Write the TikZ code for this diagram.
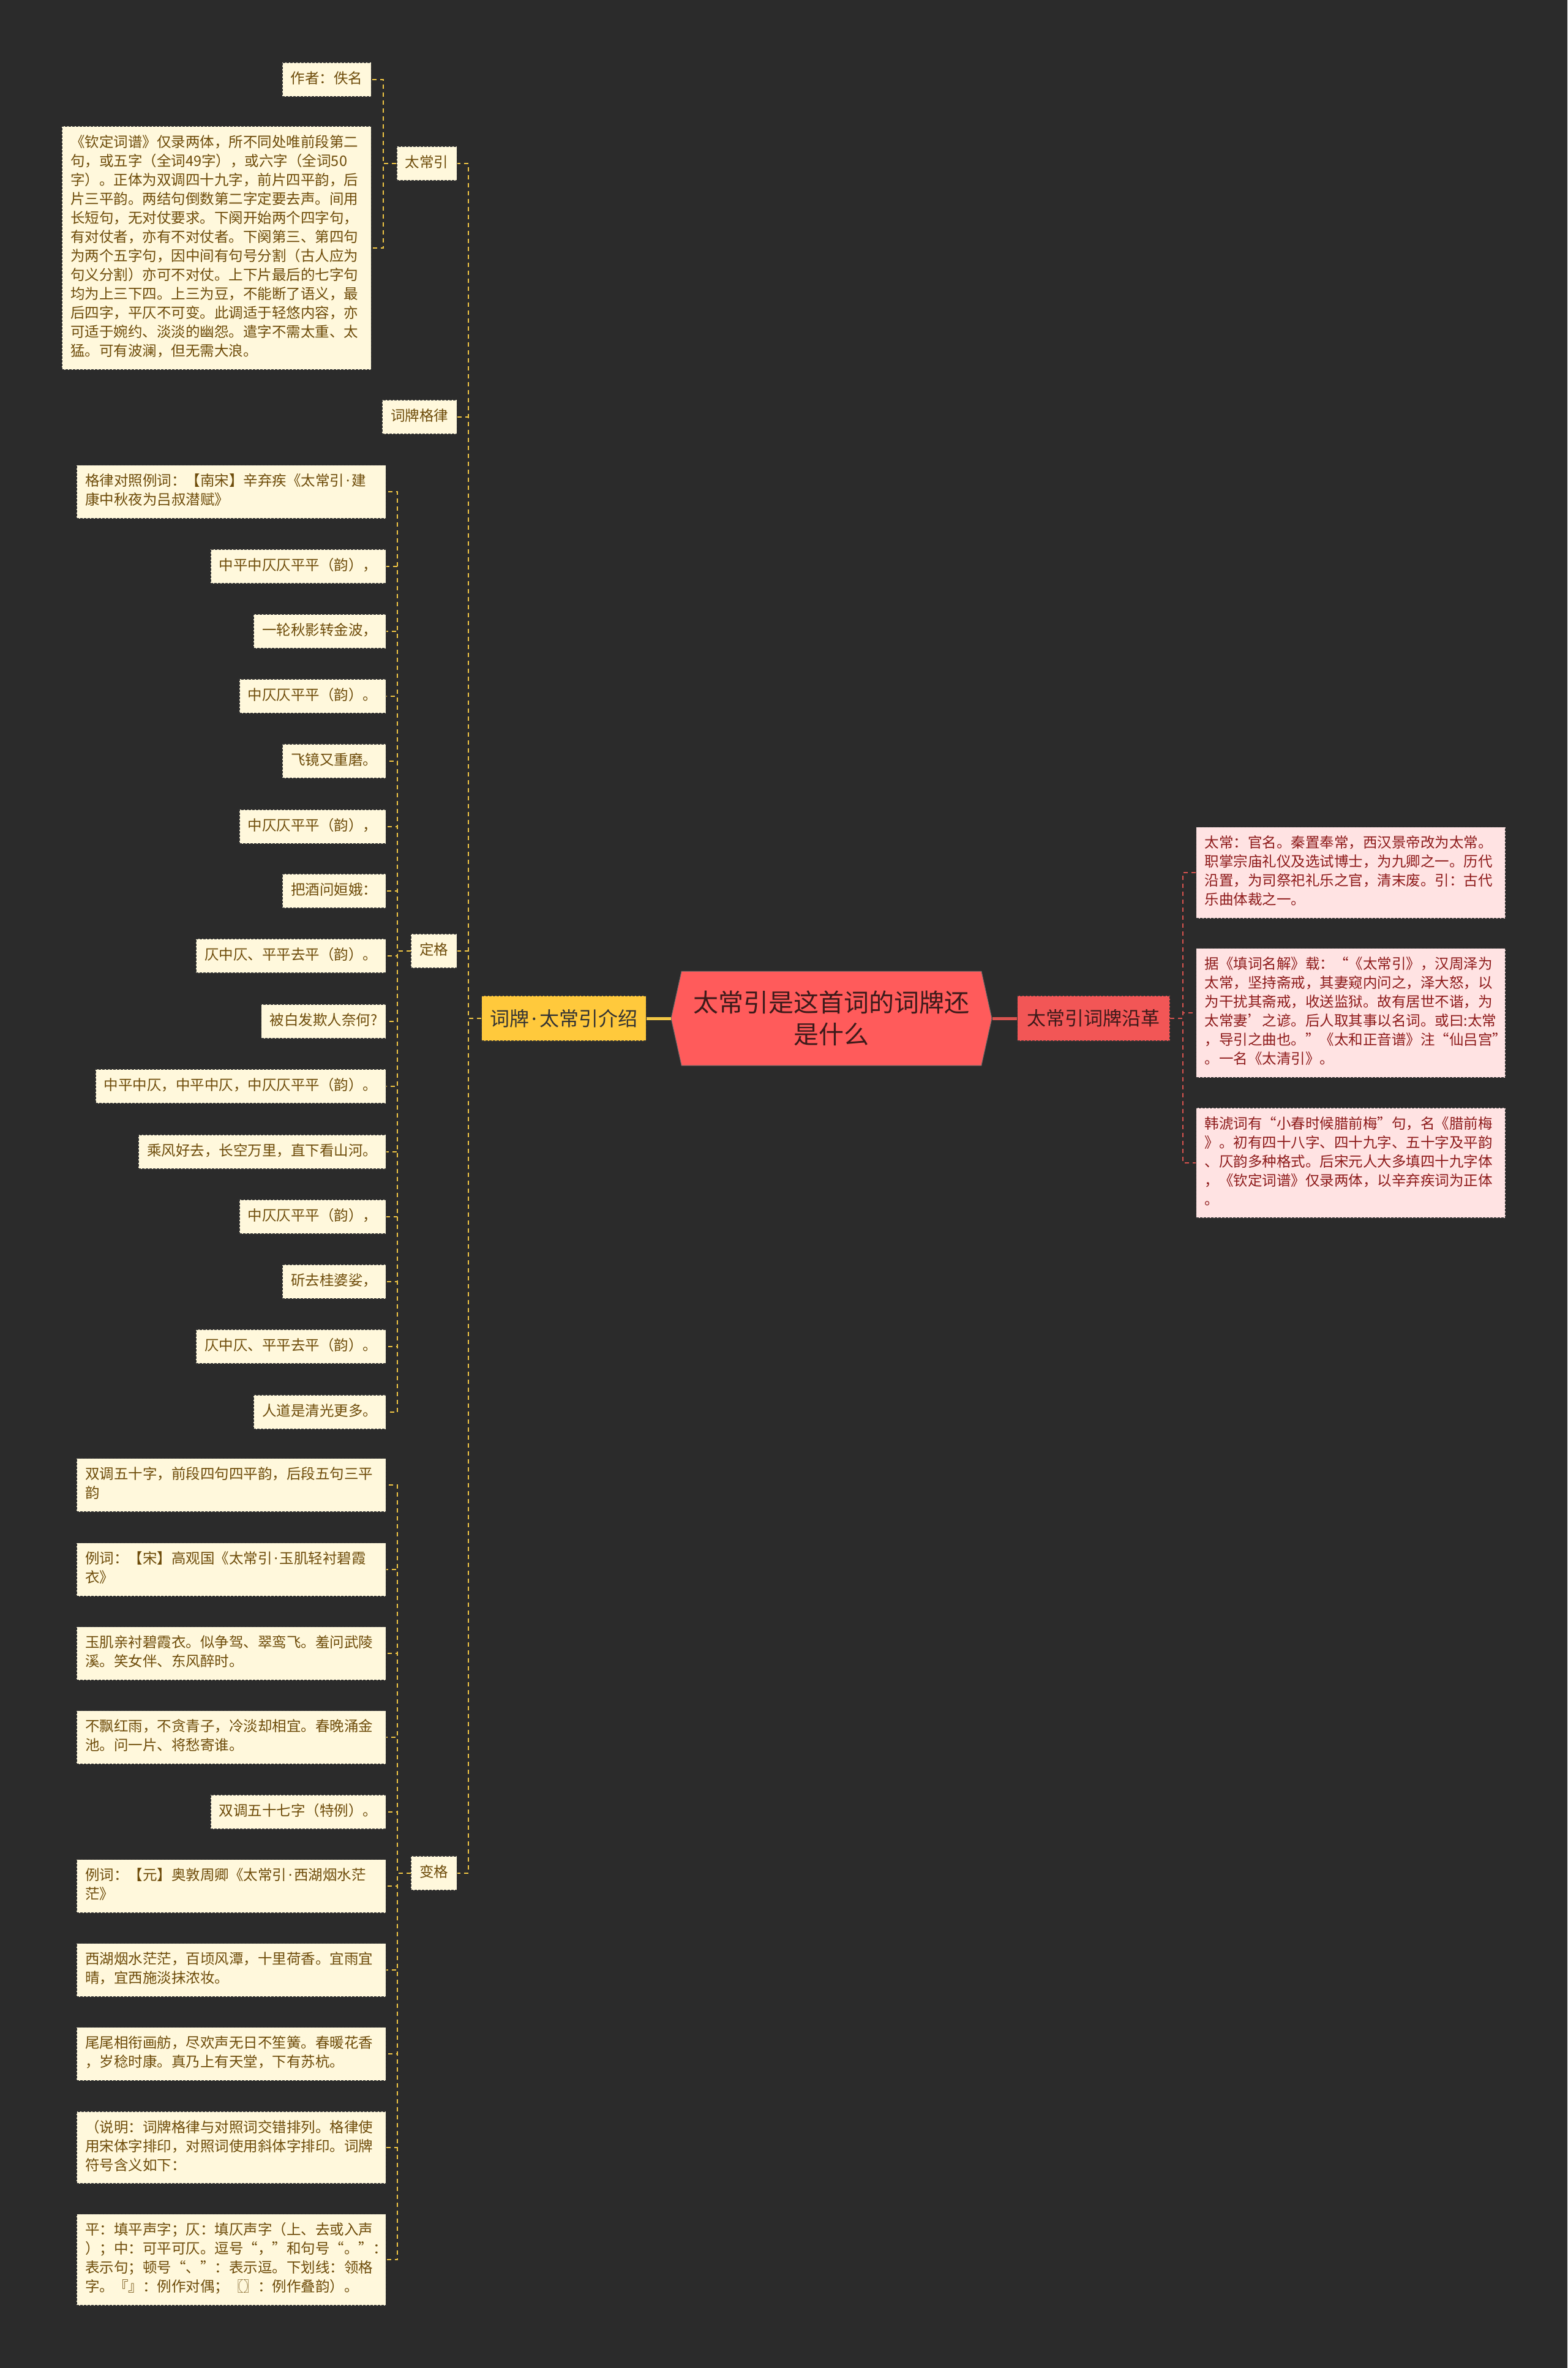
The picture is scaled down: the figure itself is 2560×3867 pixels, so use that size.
\documentclass[tikz,border=0pt]{standalone}
\usepackage{fontspec}
\setmainfont{Noto Sans CJK SC}
\newfontfamily\latinfont{Noto Sans}
\newcommand\mdot{{\latinfont\hspace{0.12em}·\hspace{0.12em}}}
\usetikzlibrary{shapes.symbols}
\definecolor{bgdark}{HTML}{2B2B2B}
\definecolor{cream}{HTML}{FFF8DC}
\definecolor{ink}{HTML}{6E4C0A}
\definecolor{gold}{HTML}{FFC93C}
\definecolor{rose}{HTML}{FF5B5B}
\definecolor{blush}{HTML}{FFE3E3}
\definecolor{wine}{HTML}{8E1B1B}
\definecolor{rootink}{HTML}{3D1A1A}
\definecolor{linkyel}{HTML}{F2C744}
\definecolor{linkred}{HTML}{D9534F}

\begin{document}
\begin{tikzpicture}[x=1pt, y=-1pt,
    every node/.style={font=\fontsize{23.5}{31}\selectfont, inner xsep=14pt, inner ysep=12.5pt},
    leaf/.style={fill=cream, text=ink, draw=black!80, dash pattern=on 4pt off 2pt, line width=1.2pt, execute at begin node=\strut, execute at end node=\strut},
    para/.style={leaf, text width=477pt, align=left},
    note/.style={para, fill=blush, text=wine},
    topic/.style={draw=black!80, dash pattern=on 4pt off 2pt, line width=1.2pt, font=\fontsize{32}{40}\selectfont, minimum height=74pt},
    ylink/.style={draw=linkyel, line width=2pt, dash pattern=on 7pt off 6pt},
    rlink/.style={ylink, draw=linkred}]
    \fill[bgdark] (0,0) rectangle (2560,3867);
    \useasboundingbox (0,0) rectangle (2560,3867);

    \node (root) [shape=signal, signal to=west and east, signal pointer angle=155, fill=rose, draw=black!60, line width=1pt, text=rootink, font=\fontsize{41}{52}\selectfont, align=center, minimum width=524pt, minimum height=154pt] at (1358,1663) {太常引是这首词的词牌还\\是什么};
    \node (intro) [topic, fill=gold, text=black!80, minimum width=263pt] at (921,1663) {词牌\mdot 太常引介绍};
    \node (hist)  [topic, fill=rose!95!black, text=rootink, minimum width=249pt, font=\fontsize{31}{40}\selectfont] at (1786,1663) {太常引词牌沿革};

    \node (tcy) [leaf, anchor=east] at (747,267) {太常引};
    \node (gl)  [leaf, anchor=east] at (747,681) {词牌格律};
    \node (dg)  [leaf, anchor=east] at (747,1553) {定格};
    \node (bg)  [leaf, anchor=east] at (747,3059) {变格};

    \node (tcy1) [leaf, anchor=east] at (607,130) {作者：佚名};
    \node (tcy2) [para, anchor=east] at (607,405) {《钦定词谱》仅录两体，所不同处唯前段第二\\句，或五字（全词49字），或六字（全词50\\字）。正体为双调四十九字，前片四平韵，后\\片三平韵。两结句倒数第二字定要去声。间用\\长短句，无对仗要求。下阕开始两个四字句，\\有对仗者，亦有不对仗者。下阕第三、第四句\\为两个五字句，因中间有句号分割（古人应为\\句义分割）亦可不对仗。上下片最后的七字句\\均为上三下四。上三为豆，不能断了语义，最\\后四字，平仄不可变。此调适于轻悠内容，亦\\可适于婉约、淡淡的幽怨。遣字不需太重、太\\猛。可有波澜，但无需大浪。};

    \node (dg1)  [para, anchor=east] at (631,803) {格律对照例词：【南宋】辛弃疾《太常引\mdot 建\\康中秋夜为吕叔潜赋》};
    \node (dg2)  [leaf, anchor=east] at (631,925) {中平中仄仄平平（韵），};
    \node (dg3)  [leaf, anchor=east] at (631,1031) {一轮秋影转金波，};
    \node (dg4)  [leaf, anchor=east] at (631,1137) {中仄仄平平（韵）。};
    \node (dg5)  [leaf, anchor=east] at (631,1243) {飞镜又重磨。};
    \node (dg6)  [leaf, anchor=east] at (631,1350) {中仄仄平平（韵），};
    \node (dg7)  [leaf, anchor=east] at (631,1455) {把酒问姮娥：};
    \node (dg8)  [leaf, anchor=east] at (631,1561) {仄中仄、平平去平（韵）。};
    \node (dg9)  [leaf, anchor=east] at (631,1668) {被白发欺人奈何?};
    \node (dg10) [leaf, anchor=east] at (631,1774) {中平中仄，中平中仄，中仄仄平平（韵）。};
    \node (dg11) [leaf, anchor=east] at (631,1881) {乘风好去，长空万里，直下看山河。};
    \node (dg12) [leaf, anchor=east] at (631,1987) {中仄仄平平（韵），};
    \node (dg13) [leaf, anchor=east] at (631,2093) {斫去桂婆娑，};
    \node (dg14) [leaf, anchor=east] at (631,2199) {仄中仄、平平去平（韵）。};
    \node (dg15) [leaf, anchor=east] at (631,2306) {人道是清光更多。};

    \node (bg1)  [para, anchor=east] at (631,2425) {双调五十字，前段四句四平韵，后段五句三平\\韵};
    \node (bg2)  [para, anchor=east] at (631,2563) {例词：【宋】高观国《太常引\mdot 玉肌轻衬碧霞\\衣》};
    \node (bg3)  [para, anchor=east] at (631,2700) {玉肌亲衬碧霞衣。似争驾、翠鸾飞。羞问武陵\\溪。笑女伴、东风醉时。};
    \node (bg4)  [para, anchor=east] at (631,2837) {不飘红雨，不贪青子，冷淡却相宜。春晚涌金\\池。问一片、将愁寄谁。};
    \node (bg5)  [leaf, anchor=east] at (631,2959) {双调五十七字（特例）。};
    \node (bg6)  [para, anchor=east] at (631,3080) {例词：【元】奥敦周卿《太常引\mdot 西湖烟水茫\\茫》};
    \node (bg7)  [para, anchor=east] at (631,3217) {西湖烟水茫茫，百顷风潭，十里荷香。宜雨宜\\晴，宜西施淡抹浓妆。};
    \node (bg8)  [para, anchor=east] at (631,3354) {尾尾相衔画舫，尽欢声无日不笙簧。春暖花香\\，岁稔时康。真乃上有天堂，下有苏杭。};
    \node (bg9)  [para, anchor=east] at (631,3507) {（说明：词牌格律与对照词交错排列。格律使\\用宋体字排印，对照词使用斜体字排印。词牌\\符号含义如下：};
    \node (bg10) [para, anchor=east] at (631,3690) {平：填平声字；仄：填仄声字（上、去或入声\\）；中：可平可仄。逗号“，”和句号“。”：\\表示句；顿号“、”：表示逗。下划线：领格\\字。『』：例作对偶；〖〗：例作叠韵）。};

    \node (r1) [note, anchor=west] at (1953,1425) {太常：官名。秦置奉常，西汉景帝改为太常。\\职掌宗庙礼仪及选试博士，为九卿之一。历代\\沿置，为司祭祀礼乐之官，清末废。引：古代\\乐曲体裁之一。};
    \node (r2) [note, anchor=west] at (1953,1654) {据《填词名解》载：“《太常引》，汉周泽为\\太常，坚持斋戒，其妻窥内问之，泽大怒，以\\为干扰其斋戒，收送监狱。故有居世不谐，为\\太常妻’之谚。后人取其事以名词。或曰:太常\\，导引之曲也。”《太和正音谱》注“仙吕宫”\\。一名《太清引》。};
    \node (r3) [note, anchor=west] at (1953,1899) {韩淲词有“小春时候腊前梅”句，名《腊前梅\\》。初有四十八字、四十九字、五十字及平韵\\、仄韵多种格式。后宋元人大多填四十九字体\\，《钦定词谱》仅录两体，以辛弃疾词为正体\\。};

    \draw[linkyel, line width=5pt] (root.west) -- (intro.east);
    \draw[linkred, line width=5pt] (root.east) -- (hist.west);
    \foreach \n in {tcy,gl,dg,bg}
        \draw[ylink] (intro.west) -- ++(-21,0) |- (\n.east);
    \foreach \i in {1,2}
        \draw[ylink] (tcy.west) -- ++(-21.5,0) |- (tcy\i.east);
    \foreach \i in {1,...,15}
        \draw[ylink] (dg.west) -- ++(-21.5,0) |- (dg\i.east);
    \foreach \i in {1,...,10}
        \draw[ylink] (bg.west) -- ++(-21.5,0) |- (bg\i.east);
    \foreach \i in {1,2,3}
        \draw[rlink] (hist.east) -- ++(21,0) |- (r\i.west);
\end{tikzpicture}
\end{document}
